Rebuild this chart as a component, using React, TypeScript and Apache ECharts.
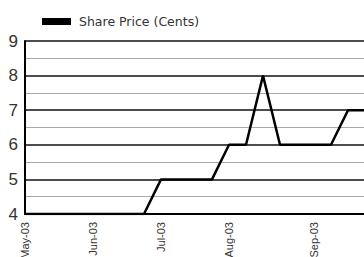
import React, { useEffect, useRef } from "react";
import * as echarts from "echarts";

const weeks: string[] = [
  "2003-05-01", "2003-05-08", "2003-05-15", "2003-05-22", "2003-05-29",
  "2003-06-05", "2003-06-12", "2003-06-19", "2003-06-26", "2003-07-03",
  "2003-07-10", "2003-07-17", "2003-07-24", "2003-07-31", "2003-08-07",
  "2003-08-14", "2003-08-21", "2003-08-28", "2003-09-04", "2003-09-11",
  "2003-09-18",
];
const monthLabels: string[] = [
  "May-03", "", "", "", "Jun-03", "", "", "", "Jul-03", "", "", "",
  "Aug-03", "", "", "", "", "Sep-03", "", "", "",
];
const sharePrice: number[] = [4, 4, 4, 4, 4, 4, 4, 4, 5, 5, 5, 5, 6, 6, 8, 6, 6, 6, 6, 7, 7];

export default function App() {
  const ref = useRef<HTMLDivElement>(null);
  useEffect(() => {
    if (!ref.current) return;
    const chart = echarts.init(ref.current, undefined, { renderer: "svg" });
    chart.setOption({
      animation: false,
      backgroundColor: "#fff",
      legend: {
        left: 37,
        top: 10,
        itemWidth: 29,
        itemHeight: 7,
        icon: "rect",
        data: [{ name: "Share Price (Cents)", itemStyle: { color: "#000" } }],
        textStyle: { fontFamily: "DejaVu Sans", fontSize: 12.5, color: "#333", padding: [0, 0, 0, 3] },
      },
      grid: { left: 25, top: 41, right: -1, bottom: 43, containLabel: false, outerBoundsMode: "none" },
      xAxis: {
        type: "category",
        data: weeks,
        boundaryGap: false,
        axisLine: { show: true, lineStyle: { color: "#000", width: 2 } },
        axisTick: { show: false },
        axisLabel: {
          interval: 0,
          rotate: 90,
          margin: 8,
          fontFamily: "Liberation Sans",
          fontSize: 11,
          color: "#333",
          formatter: (_v: string, i: number) => monthLabels[i],
        },
        splitLine: { show: false },
      },
      yAxis: {
        type: "value",
        min: 4,
        max: 9,
        interval: 1,
        axisLine: { show: true, lineStyle: { color: "#000", width: 2 } },
        axisTick: { show: false },
        axisLabel: { margin: 7, fontFamily: "Liberation Sans", fontSize: 17, color: "#333" },
        splitLine: { show: true, lineStyle: { color: "#111", width: 1.5 } },
        minorTick: { show: false, splitNumber: 2 },
        minorSplitLine: { show: true, lineStyle: { color: "#aaa", width: 1 } },
      },
      series: [
        {
          name: "Share Price (Cents)",
          type: "line",
          data: sharePrice,
          symbol: "none",
          lineStyle: { color: "#000", width: 2.5 },
          itemStyle: { color: "#000" },
        },
      ],
    });
    return () => chart.dispose();
  }, []);
  return <div ref={ref} style={{ width: 364, height: 257, position: "absolute", left: 0, top: 0 }} />;
}
